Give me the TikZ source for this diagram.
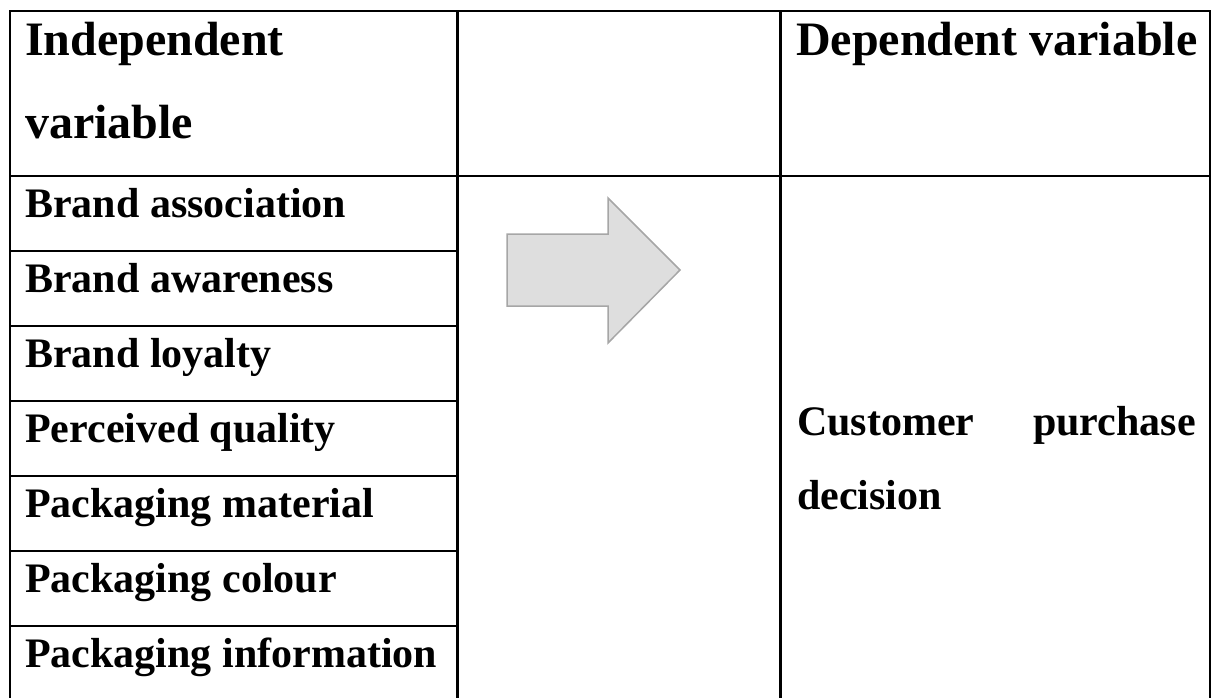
\documentclass[tikz,border=0pt]{standalone}
\usepackage{fontspec}
\setmainfont{Liberation Serif}
\begin{document}
\begin{tikzpicture}[x=1pt,y=-1pt,
  tabline/.style={line width=2.8pt,black},
  hdr/.style={inner sep=0pt,font=\fontsize{48}{58}\selectfont\bfseries},
  cell/.style={inner sep=0pt,font=\fontsize{42}{50}\selectfont\bfseries},
  bigarrow/.style={fill=black!13,draw=black!35,line width=1.5pt,line join=miter}]
\useasboundingbox (0,0) rectangle (1212,697);

% table rules
\draw[tabline] (10,720) -- (10,11) -- (1210,11) -- (1210,720);
\draw[tabline] (457.5,11) -- (457.5,720);
\draw[tabline] (780.5,11) -- (780.5,720);
\draw[tabline] (10,176) -- (1210,176);
\foreach \yy in {251,326,401,476,551,626}
  \draw[tabline] (10,\yy) -- (457.5,\yy);

% header cells
\node[hdr,anchor=base west] (indep1) at (25,55) {Independent};
\node[hdr,anchor=base west] (indep2) at (25,138) {variable};
\node[hdr,anchor=base west] (dep) at (796,55) {Dependent variable};

% independent variables
\node[cell,anchor=base west] (v1) at (25,217) {Brand association};
\node[cell,anchor=base west] (v2) at (25,292) {Brand awareness};
\node[cell,anchor=base west] (v3) at (25,367) {Brand loyalty};
\node[cell,anchor=base west] (v4) at (25,442) {Perceived quality};
\node[cell,anchor=base west] (v5) at (25,517) {Packaging material};
\node[cell,anchor=base west] (v6) at (25,592) {Packaging colour};
\node[cell,anchor=base west] (v7) at (25,667) {Packaging information};

% dependent variable (justified first line)
\node[cell,anchor=base west] (cpd1) at (797,435) {Customer};
\node[cell,anchor=base east] (cpd2) at (1196,435) {purchase};
\node[cell,anchor=base west] (cpd3) at (797,509) {decision};

% block arrow
\draw[bigarrow] (507,234) -- (608,234) -- (608,198) -- (680,270)
  -- (608,343) -- (608,306) -- (507,306) -- cycle;
\end{tikzpicture}
\end{document}
